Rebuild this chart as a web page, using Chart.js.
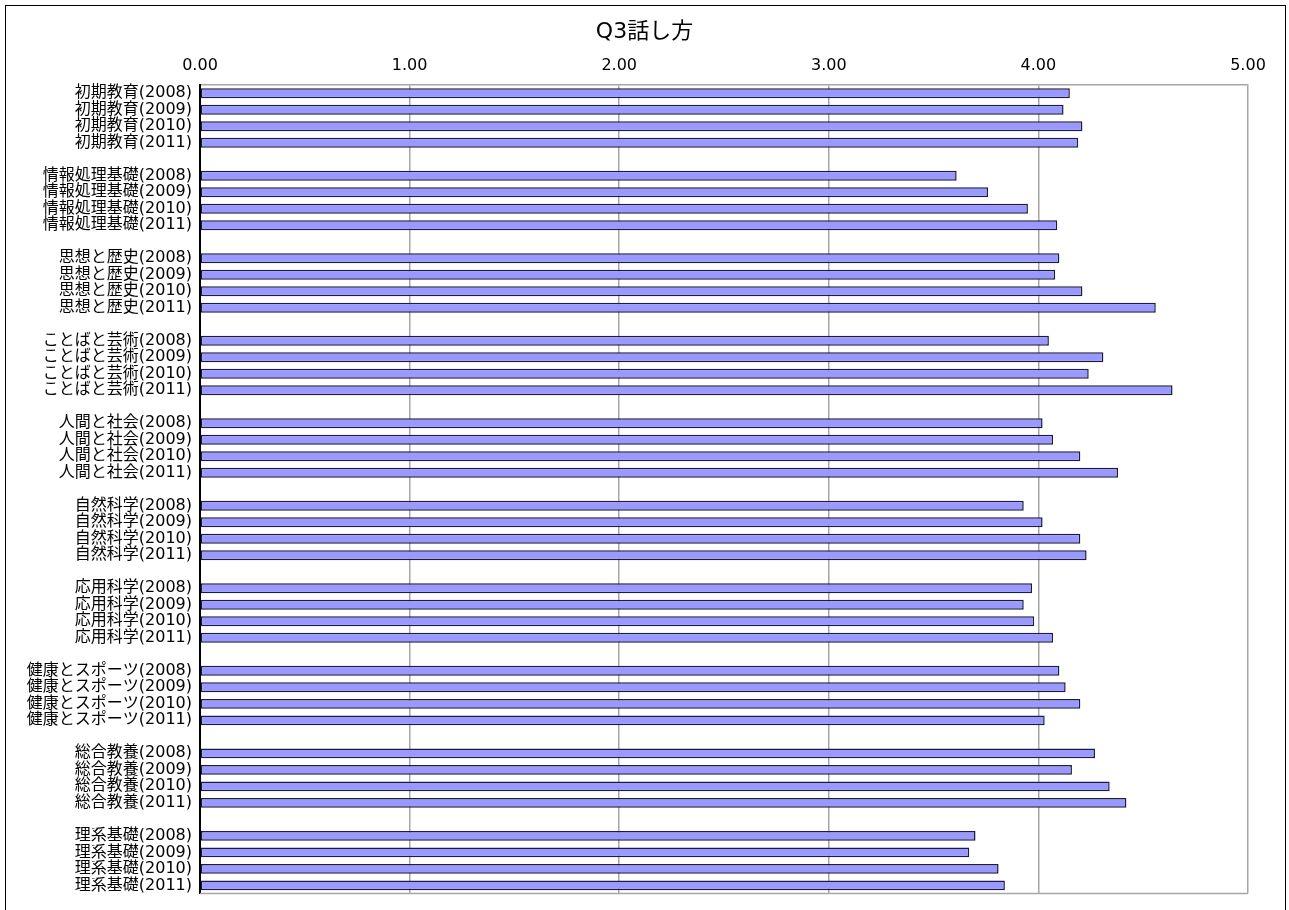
<!DOCTYPE html>
<html lang="ja">
<head>
<meta charset="utf-8">
<title>Q3話し方</title>
<script src="https://cdn.jsdelivr.net/npm/chart.js@4.4.1/dist/chart.umd.min.js"></script>
<style>
  html, body { margin: 0; padding: 0; background: #fff; overflow: hidden; }
  #wrap { position: relative; width: 1289px; height: 910px; }
  #frame { position: absolute; left: 5px; top: 5px; width: 1281px; height: 940px;
           box-sizing: border-box; border: 1px solid #000; pointer-events: none; }
  canvas { position: absolute; left: 0; top: 0; }
</style>
</head>
<body>
<div id="wrap">
  <canvas id="chart" width="1289" height="910"></canvas>
  <div id="frame"></div>
</div>
<script>
// Course groups and survey years
const groups = ['初期教育', '情報処理基礎', '思想と歴史', 'ことばと芸術', '人間と社会',
                '自然科学', '応用科学', '健康とスポーツ', '総合教養', '理系基礎'];
const years = ['2008', '2009', '2010', '2011'];

// Mean score per group, one array per year (same order as groups)
const scores2008 = [4.15, 3.61, 4.10, 4.05, 4.02, 3.93, 3.97, 4.10, 4.27, 3.70];
const scores2009 = [4.12, 3.76, 4.08, 4.31, 4.07, 4.02, 3.93, 4.13, 4.16, 3.67];
const scores2010 = [4.21, 3.95, 4.21, 4.24, 4.20, 4.20, 3.98, 4.20, 4.34, 3.81];
const scores2011 = [4.19, 4.09, 4.56, 4.64, 4.38, 4.23, 4.07, 4.03, 4.42, 3.84];

const axisMin = 0;
const axisMax = 5;
const axisStep = 1;

// One row per group/year, with an empty spacer row between groups
const scoresByYear = [scores2008, scores2009, scores2010, scores2011];
const labels = [];
const values = [];
groups.forEach((g, gi) => {
  if (gi > 0) { labels.push(''); values.push(null); }
  years.forEach((y, yi) => {
    labels.push(g + '(' + y + ')');
    values.push(scoresByYear[yi][gi]);
  });
});

const FONT = "'DejaVu Sans', 'Noto Sans CJK JP', sans-serif";
const GRID = '#a6a6a6';

// Grey frame on the bottom edge of the plot
const plotFrame = {
  id: 'plotFrame',
  beforeDatasetsDraw(chart) {
    const { ctx, chartArea: a } = chart;
    ctx.save();
    ctx.strokeStyle = GRID;
    ctx.lineWidth = 1.5;
    ctx.beginPath();
    ctx.moveTo(a.left, a.bottom);
    ctx.lineTo(a.right, a.bottom);
    ctx.stroke();
    ctx.restore();
  }
};

new Chart(document.getElementById('chart'), {
  type: 'bar',
  data: {
    labels: labels,
    datasets: [{
      data: values,
      backgroundColor: '#9999ff',
      borderColor: '#1c1c40',
      borderWidth: 1.5,
      borderSkipped: false,
      categoryPercentage: 1,
      barPercentage: 0.6
    }]
  },
  options: {
    indexAxis: 'y',
    responsive: false,
    devicePixelRatio: 1,
    animation: false,
    layout: { padding: { left: 0, right: 0, top: 0, bottom: 14 } },
    plugins: {
      legend: { display: false },
      tooltip: { enabled: false },
      title: {
        display: true,
        text: 'Q3話し方',
        color: '#000',
        font: { family: FONT, size: 22, weight: 'normal', lineHeight: 1.2 },
        padding: { top: 19, bottom: 0 }
      }
    },
    scales: {
      x: {
        position: 'top',
        min: axisMin,
        max: axisMax,
        afterFit(scale) { scale.height = 39.6; },
        ticks: {
          stepSize: axisStep,
          padding: 9.5,
          color: '#000',
          font: { family: FONT, size: 16, lineHeight: 1.2 },
          callback: v => Number(v).toFixed(2)
        },
        grid: {
          drawTicks: false,
          color: ctx => (ctx.tick && ctx.tick.value === axisMin) ? 'rgba(0,0,0,0)' : GRID,
          lineWidth: 1.5
        },
        border: { display: true, color: GRID, width: 1.5 }
      },
      y: {
        afterFit(scale) { scale.width = 200; },
        ticks: {
          autoSkip: false,
          padding: 8,
          color: '#000',
          font: { family: FONT, size: 16, lineHeight: 1.05 }
        },
        grid: { display: false, drawTicks: false },
        border: { display: true, color: '#000', width: 2 }
      },
      // empty margin on the right of the plot
      yRight: {
        type: 'linear',
        position: 'right',
        afterFit(scale) { scale.width = 41; },
        ticks: { display: false },
        grid: { display: false, drawTicks: false },
        border: { display: false }
      }
    }
  },
  plugins: [plotFrame]
});
</script>
</body>
</html>
